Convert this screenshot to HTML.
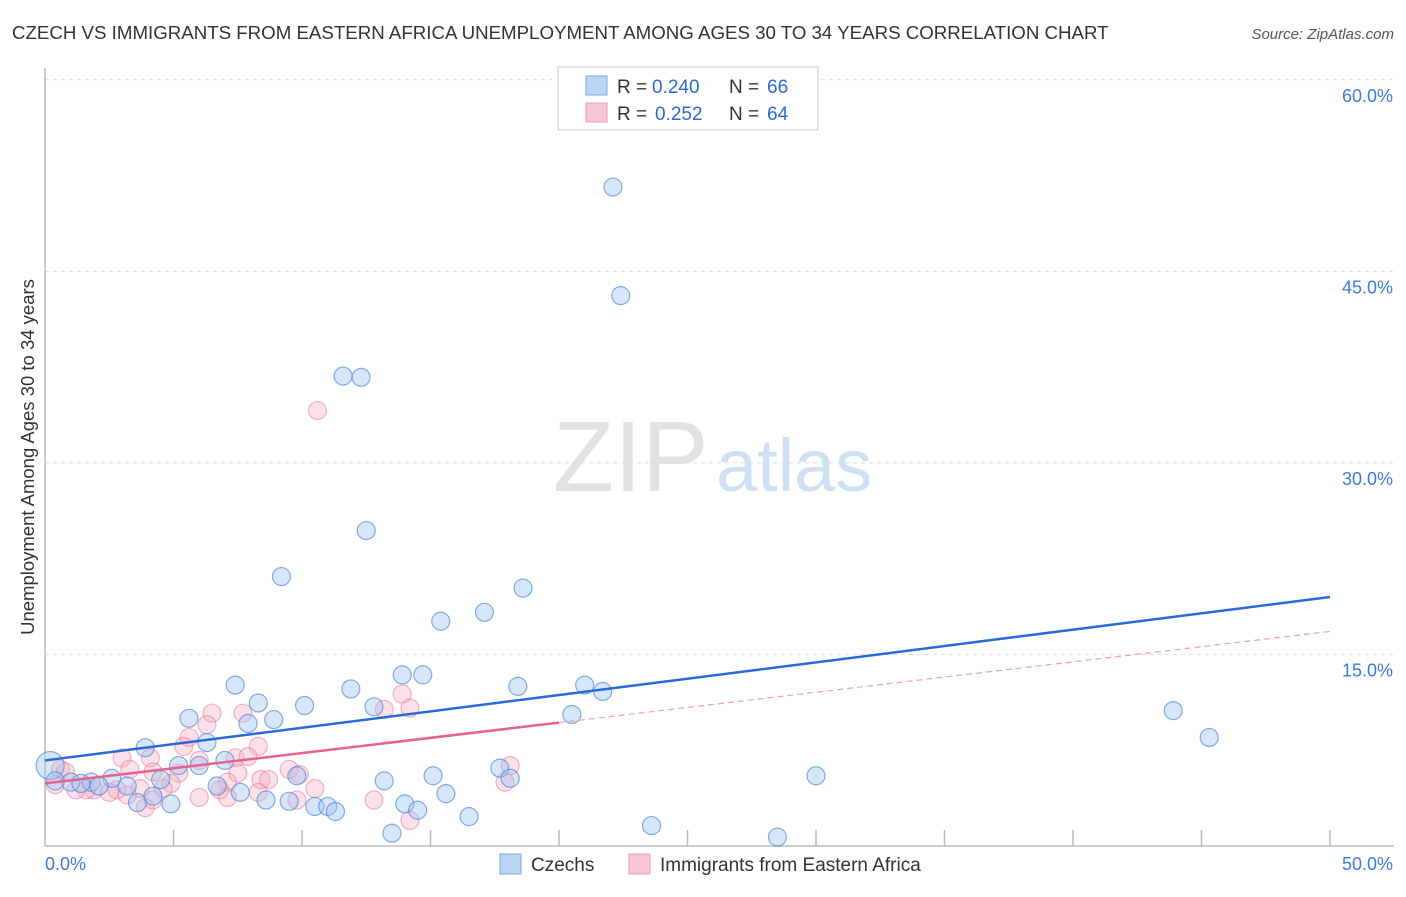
<!DOCTYPE html>
<html><head><meta charset="utf-8"><style>
body{margin:0;background:#fff;font-family:"Liberation Sans",sans-serif;}
svg text{font-family:"Liberation Sans",sans-serif;}
</style></head><body>
<svg id="chart" width="1406" height="892" xmlns="http://www.w3.org/2000/svg">
<text x="12" y="39" font-size="18.7" fill="#333">CZECH VS IMMIGRANTS FROM EASTERN AFRICA UNEMPLOYMENT AMONG AGES 30 TO 34 YEARS CORRELATION CHART</text>
<text x="1394" y="39" font-size="15" fill="#555" text-anchor="end" font-style="italic">Source: ZipAtlas.com</text>
<g>
<text x="553" y="491" font-size="100" font-family="Liberation Serif,serif" fill="#e2e2e2">ZIP</text>
<text x="716" y="491" font-size="74" fill="#cfe0f4">atlas</text>
</g>
<g id="grid"></g>
<g id="axes"></g>
<g id="marks"></g>
<text transform="translate(34,457) rotate(-90)" font-size="18.5" fill="#333" text-anchor="middle">Unemployment Among Ages 30 to 34 years</text>
<g>
<rect x="558" y="67" width="260" height="63" fill="#fff" stroke="#ccc"/>
<rect x="586" y="76" width="21" height="19" fill="#bcd4f4" stroke="#7fa8e0"/>
<rect x="586" y="103" width="21" height="19" fill="#f9c8d6" stroke="#f09ab2"/>
<text x="617" y="93" font-size="19" fill="#333">R =</text>
<text x="652" y="93" font-size="19" fill="#2b6bd6">0.240</text>
<text x="729" y="93" font-size="19" fill="#333">N =</text>
<text x="767" y="93" font-size="19" fill="#2b6bd6">66</text>
<text x="617" y="120" font-size="19" fill="#333">R =</text>
<text x="655" y="120" font-size="19" fill="#2b6bd6">0.252</text>
<text x="729" y="120" font-size="19" fill="#333">N =</text>
<text x="767" y="120" font-size="19" fill="#2b6bd6">64</text>
</g>
<g>
<rect x="500" y="854" width="21" height="20" fill="#bcd4f4" stroke="#7fa8e0"/>
<text x="531" y="871" font-size="19" fill="#333">Czechs</text>
<rect x="629" y="854" width="21" height="20" fill="#f9c8d6" stroke="#f09ab2"/>
<text x="660" y="871" font-size="19" fill="#333">Immigrants from Eastern Africa</text>
</g>
</svg>
<script>
const blueX=[22.1,22.4,11.6,12.3,12.5,9.2,18.6,17.1,15.4,13.9,14.7,7.4,11.9,18.4,21.0,21.7,8.3,10.1,12.8,5.6,8.9,7.9,20.5,43.9,45.3,6.3,3.9,7.0,5.2,6.0,17.7,18.1,30.0,15.1,13.2,9.8,4.5,2.6,1.8,0.2,1.0,3.2,6.7,7.6,15.6,3.6,4.9,8.6,9.5,10.5,11.0,11.3,14.0,14.5,16.5,13.5,23.6,28.5,4.2,2.1,1.4,0.4];
const blueY=[51.6,43.1,36.8,36.7,24.7,21.1,20.2,18.3,17.6,13.4,13.4,12.6,12.3,12.5,12.6,12.1,11.2,11.0,10.9,10.0,9.9,9.6,10.3,10.6,8.5,8.1,7.7,6.7,6.3,6.3,6.1,5.3,5.5,5.5,5.1,5.5,5.2,5.3,5.0,6.3,5.0,4.7,4.7,4.2,4.1,3.4,3.3,3.6,3.5,3.1,3.1,2.7,3.3,2.8,2.3,1.0,1.6,0.7,3.9,4.7,4.9,5.1];
const pinkX=[10.6,13.9,14.2,13.2,6.5,7.7,6.3,5.6,5.4,8.3,3.0,4.1,7.4,7.9,6.0,3.3,5.2,7.5,9.5,4.2,18.1,0.6,0.8,8.4,8.7,9.9,7.1,4.9,17.9,10.5,3.7,2.8,1.9,2.5,1.6,0.4,1.2,6.8,8.3,4.6,4.2,7.1,9.8,12.8,3.9,14.2,6.0,3.2];
const pinkY=[34.1,11.9,10.8,10.7,10.4,10.4,9.5,8.5,7.8,7.8,6.9,6.9,6.9,7.0,6.7,6.0,5.7,5.7,6.0,5.8,6.3,6.0,5.8,5.2,5.2,5.6,5.0,4.9,5.0,4.5,4.5,4.4,4.4,4.2,4.4,4.8,4.4,4.4,4.2,4.5,3.6,3.8,3.6,3.6,3.0,2.0,3.8,4.0];
const blueTrend=[6.7,19.5];
const pinkTrend=[4.9,16.8];
const pinkSolidEnd=20;
const yTicks=[15,30,45,60];
const yTickLabels=["15.0%","30.0%","45.0%","60.0%"];
const xTicks=[5,10,15,20,25,30,35,40,45,50];

const NS="http://www.w3.org/2000/svg";
const X=v=>45+v*25.7, Y=v=>846-v*12.77;
function mk(tag,attrs,parent){const e=document.createElementNS(NS,tag);for(const k in attrs)e.setAttribute(k,attrs[k]);parent.appendChild(e);return e;}
const grid=document.getElementById('grid'),axes=document.getElementById('axes'),marks=document.getElementById('marks');
yTicks.forEach((t,i)=>{
  const l=mk('line',{x1:45,x2:1394,y1:Y(t),y2:Y(t),stroke:'#ddd','stroke-dasharray':'4,4'},grid);
  
  
  const tx=mk('text',{x:1393,y:Y(t)+22,'font-size':18,fill:'#3b7be0','text-anchor':'end'},axes);
  tx.textContent=yTickLabels[i];
  
  
});
mk('line',{x1:45,x2:45,y1:68,y2:846,stroke:'#bbb','stroke-width':1.5},axes);
mk('line',{x1:45,x2:1394,y1:846,y2:846,stroke:'#bbb','stroke-width':1.5},axes);
xTicks.forEach(t=>{
  const l=mk('line',{x1:X(t),x2:X(t),y1:830,y2:846,stroke:'#bbb','stroke-width':1.5},axes);
  
  
});
const x0=mk('text',{x:45,y:870,'font-size':18,fill:'#3b7be0'},axes);x0.textContent='0.0%';


const x1=mk('text',{x:1393,y:870,'font-size':18,fill:'#3b7be0','text-anchor':'end'},axes);x1.textContent='50.0%';



pinkX.forEach((v,i)=>{
  const c=mk('circle',{cx:X(v),cy:Y(pinkY[i]),r:9,fill:'rgba(246,170,192,0.35)',stroke:'rgba(236,120,152,0.55)','stroke-width':1.2},marks);
  
  
});
blueX.forEach((v,i)=>{
  const c=mk('circle',{cx:X(v),cy:Y(blueY[i]),r:(i==39?14:9),fill:'rgba(160,196,240,0.42)',stroke:'rgba(70,130,220,0.65)','stroke-width':1.2},marks);
  
  
});
const bt=mk('line',{x1:X(0),y1:Y(blueTrend[0]),x2:X(50),y2:Y(blueTrend[1]),stroke:'#2a6ad8','stroke-width':2.5},marks);


const pAt=v=>pinkTrend[0]+(pinkTrend[1]-pinkTrend[0])*v/50;
const pt=mk('line',{x1:X(0),y1:Y(pinkTrend[0]),x2:X(pinkSolidEnd),y2:Y(pAt(pinkSolidEnd)),stroke:'#e8628c','stroke-width':2.5},marks);


const pd=mk('line',{x1:X(pinkSolidEnd),y1:Y(pAt(pinkSolidEnd)),x2:X(50),y2:Y(pinkTrend[1]),stroke:'#f0a0b8','stroke-width':1.2,'stroke-dasharray':'6,4'},marks);


</script>
</body></html>
